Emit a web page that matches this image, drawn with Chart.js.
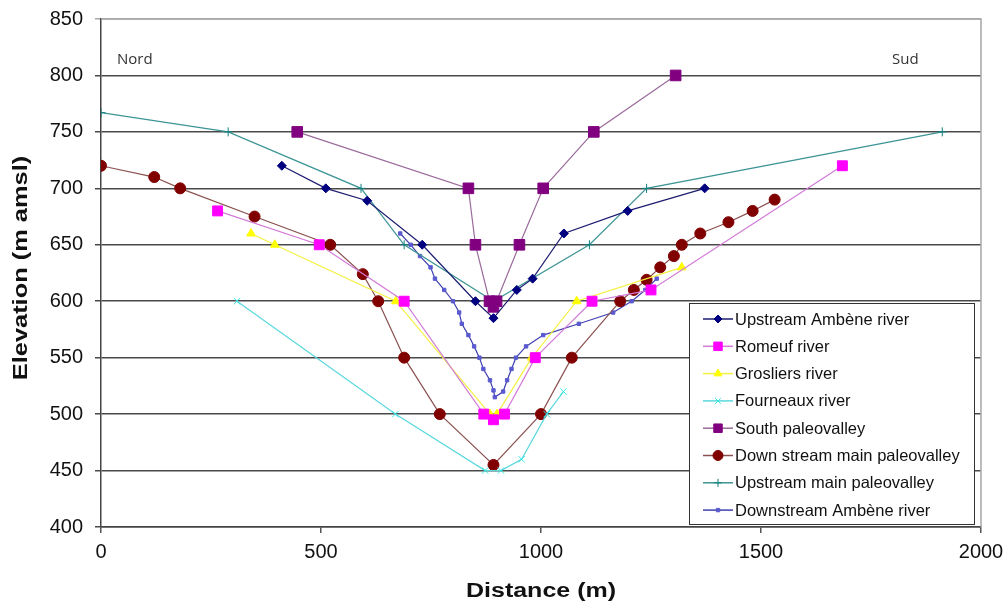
<!DOCTYPE html>
<html>
<head>
<meta charset="utf-8">
<script src="https://cdn.jsdelivr.net/npm/chart.js@4.4.1/dist/chart.umd.min.js"></script>
<style>
  html, body { margin: 0; padding: 0; background: #fff; }
  #wrap { position: relative; width: 1006px; height: 602px; }
</style>
</head>
<body>
<div id="wrap"><canvas id="profile"></canvas></div>
<script>
// --- data (distance m, elevation m amsl) ---
const seriesNames = [
  "Upstream Ambène river", "Romeuf river", "Grosliers river", "Fourneaux river",
  "South paleovalley", "Down stream main paleovalley", "Upstream main paleovalley",
  "Downstream Ambène river"
];

const upAmbeneX = [411, 511, 605, 730, 851, 892, 945, 981, 1052, 1197, 1372];
const upAmbeneY = [720, 700, 689, 650, 600, 585, 610, 620, 660, 680, 700];

const romeufX = [265, 496, 689, 870, 892, 917, 987, 1116, 1250, 1685];
const romeufY = [680, 650, 600, 500, 495, 500, 550, 600, 610, 720];

const grosliersX = [341, 395, 670, 884, 900, 979, 1081, 1320];
const grosliersY = [660, 650, 600, 500, 500, 550, 600, 630];

const fourneauxX = [309, 669, 873, 909, 956, 1013, 1051];
const fourneauxY = [600, 500, 450, 450, 460, 500, 520];

const southX = [446, 835, 851, 883, 892, 899, 951, 1005, 1120, 1306];
const southY = [750, 700, 650, 600, 595, 600, 650, 700, 750, 800];

const downMainX = [0, 121, 180, 349, 521, 595, 630, 689, 770, 892, 1000, 1070, 1180, 1211, 1240, 1271, 1302, 1320, 1362, 1426, 1481, 1531];
const downMainY = [720, 710, 700, 675, 650, 624, 600, 550, 500, 455, 500, 550, 600, 610, 619, 630, 640, 650, 660, 670, 680, 690];

const upMainX = [0, 289, 591, 689, 892, 1110, 1240, 1912];
const upMainY = [767, 750, 700, 650, 600, 650, 700, 750];

const downAmbeneX = [680, 704, 725, 749, 759, 780, 800, 814, 820, 835, 848, 860, 869, 884, 892, 895, 914, 923, 933, 943, 966, 1005, 1086, 1164, 1206, 1237, 1263];
const downAmbeneY = [660, 650, 640, 630, 620, 610, 600, 590, 580, 570, 560, 550, 540, 530, 521, 515, 520, 530, 540, 550, 560, 570, 580, 590, 600, 610, 620];

const xTickValues = [0, 500, 1000, 1500, 2000];
const yTickValues = [400, 450, 500, 550, 600, 650, 700, 750, 800, 850];

const xTitle = "Distance (m)";
const yTitle = "Elevation (m amsl)";

const pts = (xs, ys) => xs.map((x, i) => ({ x: x, y: ys[i] }));

function series(i, xs, ys, line, fill, style, radius) {
  return {
    label: seriesNames[i],
    data: pts(xs, ys),
    showLine: true,
    borderColor: line,
    borderWidth: 1.2,
    backgroundColor: fill,
    pointBackgroundColor: fill,
    pointBorderColor: fill,
    pointBorderWidth: 1,
    pointStyle: style,
    pointRadius: radius,
    tension: 0
  };
}

const datasets = [
  series(0, upAmbeneX, upAmbeneY, "#1c1c70", "#000080", "rectRot", 4.5),
  series(1, romeufX, romeufY, "#d27ad8", "#ff00ff", "rect", 7),
  series(2, grosliersX, grosliersY, "#f4f040", "#ffff00", "triangle", 5),
  series(3, fourneauxX, fourneauxY, "#5ad8dc", "#33e6e6", "crossRot", 4.5),
  series(4, southX, southY, "#9a6a9a", "#800080", "rect", 7.5),
  series(5, downMainX, downMainY, "#8a5050", "#800000", "circle", 5.5),
  series(6, upMainX, upMainY, "#3d9494", "#108080", "cross", 4.5),
  series(7, downAmbeneX, downAmbeneY, "#4040b0", "#5a5ad0", "rect", 2.4)
];

const FONT = "'Liberation Sans', Arial, sans-serif";

// legend box inside the plot + Nord / Sud labels + plot frame + axis titles
const decorations = {
  id: "decorations",
  afterDatasetsDraw(chart) {
    const ctx = chart.ctx;
    const a = chart.chartArea;
    ctx.save();

    // frame on top / right
    ctx.strokeStyle = "#a8a8a8";
    ctx.lineWidth = 1.5;
    ctx.beginPath();
    ctx.moveTo(a.left, a.top);
    ctx.lineTo(a.right, a.top);
    ctx.lineTo(a.right, a.bottom);
    ctx.stroke();

    // Nord / Sud
    ctx.fillStyle = "#333";
    ctx.font = "15px 'Open Sans', sans-serif";
    ctx.textBaseline = "middle";
    ctx.textAlign = "left";
    ctx.fillText("Nord", 117, a.top + 41);
    ctx.fillText("Sud", a.right - 89, a.top + 41);

    // legend
    const bx = a.right - 292, by = a.bottom - 224, bw = 285, bh = 221;
    ctx.fillStyle = "#fff";
    ctx.fillRect(bx, by, bw, bh);
    ctx.strokeStyle = "#333";
    ctx.lineWidth = 1;
    ctx.strokeRect(bx + 0.5, by + 0.5, bw, bh);

    ctx.font = "16.5px " + FONT;
    chart.data.datasets.forEach((ds, i) => {
      const y = by + 16 + i * 27.3;
      ctx.strokeStyle = ds.borderColor;
      ctx.lineWidth = 1.5;
      ctx.beginPath();
      ctx.moveTo(bx + 14, y);
      ctx.lineTo(bx + 44, y);
      ctx.stroke();
      ctx.fillStyle = ds.pointBackgroundColor;
      ctx.strokeStyle = ds.pointBorderColor;
      ctx.lineWidth = 1;
      Chart.helpers.drawPoint(ctx, {
        pointStyle: ds.pointStyle,
        radius: ds.pointStyle === "rect" ? Math.min(ds.pointRadius, 6) : ds.pointRadius - 0.5,
        rotation: 0,
        borderWidth: 1
      }, bx + 29, y);
      ctx.fillStyle = "#111";
      ctx.textAlign = "left";
      ctx.textBaseline = "middle";
      ctx.fillText(ds.label, bx + 46, y + 1);
    });

    // axis titles (slightly widened like the original export)
    ctx.fillStyle = "#111";
    ctx.font = "bold 20px " + FONT;
    ctx.textAlign = "center";
    ctx.textBaseline = "middle";
    ctx.save();
    ctx.translate((a.left + a.right) / 2, 591);
    ctx.scale(1.25, 1);
    ctx.fillText(xTitle, 0, 0);
    ctx.restore();
    ctx.save();
    ctx.translate(21, (a.top + a.bottom) / 2 - 5);
    ctx.rotate(-Math.PI / 2);
    ctx.scale(1.27, 1);
    ctx.fillText(yTitle, 0, 0);
    ctx.restore();

    ctx.restore();
  }
};

new Chart(document.getElementById("profile"), {
  type: "scatter",
  data: { datasets: datasets },
  plugins: [decorations],
  options: {
    responsive: true,
    maintainAspectRatio: false,
    animation: false,
    events: [],
    layout: { padding: { top: 19, right: 25, left: 0, bottom: 0 } },
    plugins: { legend: { display: false }, tooltip: { enabled: false } },
    scales: {
      x: {
        type: "linear",
        min: 0,
        max: 2000,
        afterBuildTicks: (s) => { s.ticks = xTickValues.map(v => ({ value: v })); },
        afterFit: (s) => { s.height = 75; s.paddingLeft = 0; s.paddingRight = 0; },
        grid: { drawOnChartArea: false, drawTicks: true, tickLength: 6, color: "#555", lineWidth: 1.5 },
        border: { color: "#444", width: 1.5 },
        ticks: { color: "#111", font: { family: FONT, size: 20 }, padding: 7, maxRotation: 0, callback: (v) => String(v) },
        title: { display: false }
      },
      y: {
        type: "linear",
        min: 400,
        max: 850,
        afterBuildTicks: (s) => { s.ticks = yTickValues.map(v => ({ value: v })); },
        afterFit: (s) => { s.width = 101; s.paddingTop = 0; s.paddingBottom = 0; },
        grid: {
          tickLength: 6,
          lineWidth: 1.5,
          color: (c) => (c.tick && c.tick.value === 850 ? "#a8a8a8" : "#4a4a4a")
        },
        border: { color: "#444", width: 1.5 },
        ticks: { color: "#111", font: { family: FONT, size: 20 }, padding: 12, callback: (v) => String(v) },
        title: { display: false }
      }
    }
  }
});
</script>
</body>
</html>
